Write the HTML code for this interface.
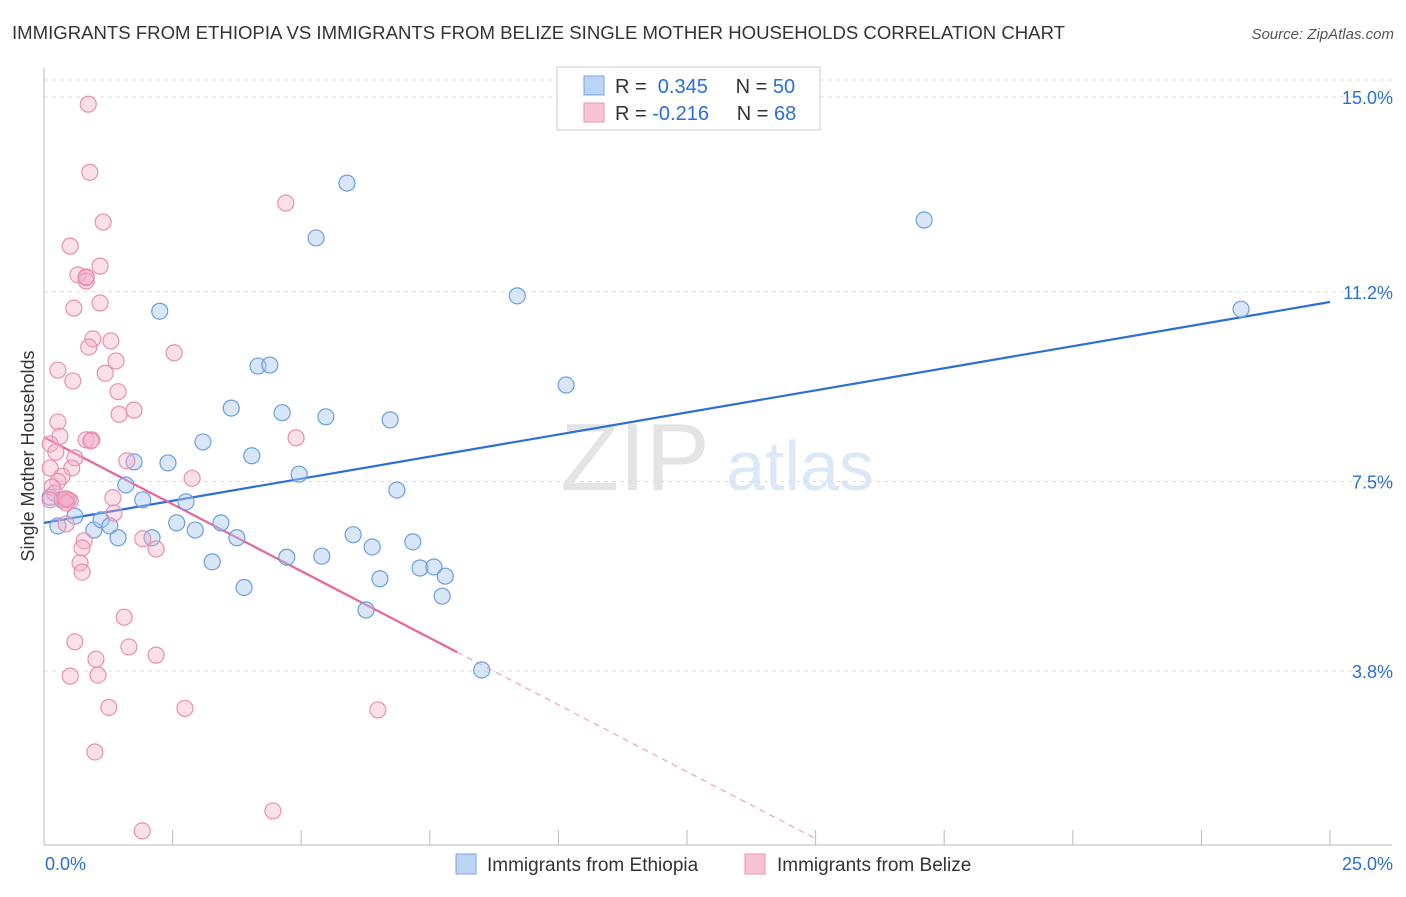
<!DOCTYPE html>
<html><head><meta charset="utf-8"><style>
body{margin:0;background:#fff;font-family:"Liberation Sans",sans-serif;}
svg text{font-family:"Liberation Sans",sans-serif;}
</style></head><body>
<svg id="c" width="1406" height="892">
<text x="12" y="39" font-size="18" fill="#333" textLength="1053" lengthAdjust="spacingAndGlyphs">IMMIGRANTS FROM ETHIOPIA VS IMMIGRANTS FROM BELIZE SINGLE MOTHER HOUSEHOLDS CORRELATION CHART</text>
<text x="1394" y="39" font-size="15" fill="#555" text-anchor="end" font-style="italic">Source: ZipAtlas.com</text>
<text x="34" y="456" font-size="18" fill="#333" text-anchor="middle" transform="rotate(-90 34 456)">Single Mother Households</text>
<g><text x="635" y="490" font-size="96" fill="#e4e4e4" font-family="Liberation Serif" text-anchor="middle">ZIP</text><text x="800" y="490" font-size="70" fill="#dce8f6" text-anchor="middle">atlas</text></g>
<g id="grid"></g><g id="axes"></g><g id="trend"></g><g id="pts"></g>
<g>
<rect x="557" y="67" width="263" height="63" fill="#fff" stroke="#ccc"/>
<rect x="584" y="76" width="20" height="19" fill="#bcd4f4" stroke="#7aa6e0"/>
<rect x="584" y="103" width="20" height="19" fill="#f8c4d4" stroke="#e896b2"/>
<text x="615" y="93" font-size="20" fill="#333">R = <tspan fill="#2b6fd6">&#160;0.345</tspan>&#160;&#160;&#160;&#160; N = <tspan fill="#2b6fd6">50</tspan></text>
<text x="615" y="120" font-size="20" fill="#333">R = <tspan fill="#2b6fd6">-0.216</tspan>&#160;&#160;&#160;&#160; N = <tspan fill="#2b6fd6">68</tspan></text>
</g>
<g>
<rect x="456" y="854" width="20" height="20" fill="#bcd4f4" stroke="#7aa6e0"/>
<text x="487" y="871" font-size="19" fill="#333">Immigrants from Ethiopia</text>
<rect x="745" y="854" width="20" height="20" fill="#f8c4d4" stroke="#e896b2"/>
<text x="777" y="871" font-size="19" fill="#333">Immigrants from Belize</text>
</g>
</svg>
<script>
const yTicks=[15.0,11.2,7.5,3.8];
const yTickLabels=["15.0%","11.2%","7.5%","3.8%"];
const xLabels=["0.0%","25.0%"];
const blueX=[0.12,0.27,0.60,0.97,1.11,1.28,1.44,1.59,1.75,1.92,2.10,2.25,2.41,2.58,2.76,2.94,3.09,3.27,3.44,3.64,3.75,3.89,4.04,4.16,4.39,4.63,4.72,4.96,5.29,5.40,5.48,5.89,6.01,6.26,6.38,6.53,6.73,6.86,7.17,7.31,7.58,7.74,7.80,8.51,9.20,10.15,17.11,23.27,0.35,0.47];
const blueY=[7.19,6.63,6.82,6.55,6.75,6.63,6.40,7.43,7.88,7.14,6.40,10.82,7.86,6.69,7.10,6.55,8.27,5.93,6.69,8.93,6.40,5.43,8.00,9.75,9.77,8.84,6.02,7.64,12.25,6.04,8.76,13.32,6.46,4.99,6.22,5.60,8.70,7.33,6.32,5.81,5.83,5.26,5.65,3.82,11.12,9.38,12.60,10.86,7.14,7.14];
const pinkX=[0.86,0.89,1.15,0.51,1.09,0.66,0.82,0.82,1.09,0.58,0.95,1.30,0.87,2.53,1.40,0.27,1.19,0.56,1.44,1.75,1.46,0.27,0.31,0.82,0.93,0.91,4.90,0.12,0.23,0.60,1.61,0.12,0.54,0.35,2.88,0.27,0.16,0.21,1.34,0.47,0.39,0.51,0.43,1.36,0.43,1.92,2.18,0.78,0.74,0.70,0.74,1.56,0.60,1.65,2.18,1.01,0.51,1.05,1.26,2.74,6.49,0.99,4.45,1.91,4.70,0.82,0.12,0.43];
const pinkY=[14.86,13.53,12.56,12.09,11.70,11.53,11.47,11.41,10.98,10.88,10.28,10.24,10.12,10.01,9.85,9.67,9.61,9.46,9.25,8.89,8.81,8.66,8.38,8.31,8.31,8.29,8.35,8.23,8.07,7.96,7.90,7.76,7.76,7.60,7.56,7.50,7.39,7.27,7.18,7.14,7.14,7.12,7.08,6.88,6.67,6.38,6.18,6.34,6.20,5.91,5.73,4.85,4.37,4.27,4.11,4.03,3.70,3.72,3.09,3.07,3.04,2.22,1.07,0.68,12.93,11.49,7.14,7.16];
const blueTrend=[6.69,0.1724];
const pinkTrend=[8.36,-0.522];
const pinkSolidEnd=8.03, pinkDashEnd=15;
const NS="http://www.w3.org/2000/svg";
const X=v=>44+v*51.44, Y=v=>865.75-v*51.25;
function mk(t,a,p){const e=document.createElementNS(NS,t);for(const k in a)e.setAttribute(k,a[k]);p.appendChild(e);return e;}
const gGrid=document.getElementById('grid'),gAx=document.getElementById('axes'),gTr=document.getElementById('trend'),gPts=document.getElementById('pts');
const topGrid=mk('line',{x1:44,x2:1392,y1:80,y2:80,stroke:'#ddd','stroke-dasharray':'4,4'},gGrid);


yTicks.forEach((t,i)=>{
 const l=mk('line',{x1:44,x2:1392,y1:Y(t),y2:Y(t),stroke:'#ddd','stroke-dasharray':'4,4'},gGrid);
 
 
 const tx=mk('text',{x:1393,y:Y(t)+7,'font-size':18,fill:'#2b6fd6','text-anchor':'end'},gAx);
 tx.textContent=yTickLabels[i];
 
 
});
const a1=mk('line',{x1:44,x2:44,y1:68,y2:845,stroke:'#bbb'},gAx);


const a2=mk('line',{x1:44,x2:1392,y1:845,y2:845,stroke:'#bbb'},gAx);


for(let i=0;i<=10;i++){const t=mk('line',{x1:X(i*2.5),x2:X(i*2.5),y1:830,y2:845,stroke:'#bbb'},gAx);
 
 }
const xl0=mk('text',{x:45,y:870,'font-size':18,fill:'#2b6fd6'},gAx);xl0.textContent=xLabels[0];


const xl1=mk('text',{x:1393,y:870,'font-size':18,fill:'#2b6fd6','text-anchor':'end'},gAx);xl1.textContent=xLabels[1];


blueX.forEach((x,i)=>{const c=mk('circle',{cx:X(x),cy:Y(blueY[i]),r:8,fill:'rgba(168,200,240,0.45)',stroke:'#6a9fe0','stroke-width':1.2},gPts);
 
 });
pinkX.forEach((x,i)=>{const c=mk('circle',{cx:X(x),cy:Y(pinkY[i]),r:8,fill:'rgba(244,176,200,0.4)',stroke:'#e890b0','stroke-width':1.2},gPts);
 
 });
const bt=mk('line',{x1:X(0),y1:Y(blueTrend[0]),x2:X(25),y2:Y(blueTrend[0]+25*blueTrend[1]),stroke:'#2b6fd6','stroke-width':2.2},gTr);


const pt=mk('line',{x1:X(0),y1:Y(pinkTrend[0]),x2:X(pinkSolidEnd),y2:Y(pinkTrend[0]+pinkSolidEnd*pinkTrend[1]),stroke:'#e8649a','stroke-width':2.2},gTr);


const pd=mk('line',{x1:X(pinkSolidEnd),y1:Y(pinkTrend[0]+pinkSolidEnd*pinkTrend[1]),x2:X(pinkDashEnd),y2:Y(pinkTrend[0]+pinkDashEnd*pinkTrend[1]),stroke:'#f0a0c0','stroke-width':1.2,'stroke-dasharray':'6,5'},gTr);


</script>
</body></html>
